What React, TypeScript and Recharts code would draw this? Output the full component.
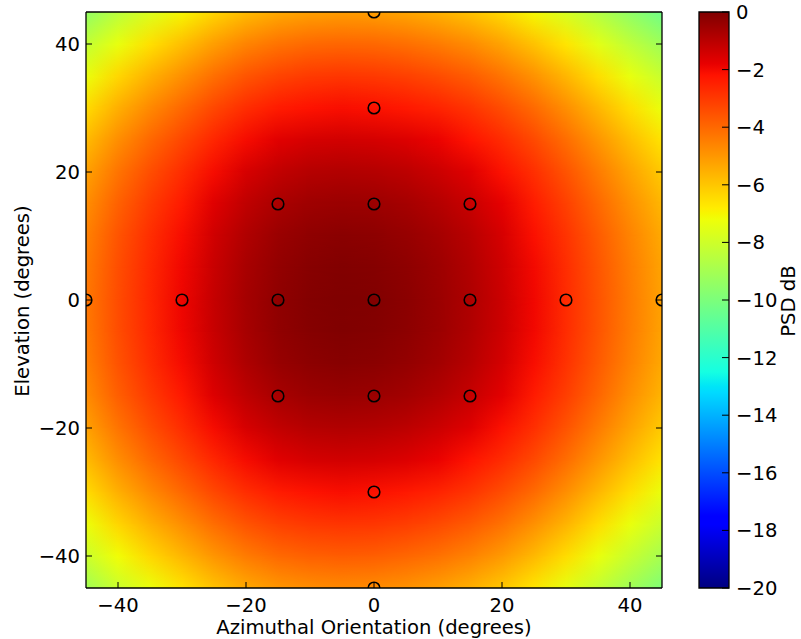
import React from 'react';
import { ScatterChart, Scatter, BarChart, Bar, XAxis, YAxis, ReferenceArea } from 'recharts';

// Grid of beam directions (degrees)
const AZIMUTH_DEG = [-45, -40, -35, -30, -25, -20, -15, -10, -5, 0, 5, 10, 15, 20, 25, 30, 35, 40, 45];
const ELEVATION_DEG = [-45, -40, -35, -30, -25, -20, -15, -10, -5, 0, 5, 10, 15, 20, 25, 30, 35, 40, 45];

// Relative PSD (dB) along each direction, one value per grid angle
const AZIMUTH_PSD_DB = [-4.35, -3.4, -2.6, -1.9, -1.2, -0.65, -0.28, -0.08, 0, -0.05, -0.2, -0.45, -0.8, -1.3, -1.95, -2.7, -3.55, -4.4, -5.2];
const ELEVATION_PSD_DB = [-4.7, -3.75, -2.9, -2.1, -1.4, -0.85, -0.42, -0.15, -0.03, 0, -0.05, -0.18, -0.45, -0.85, -1.4, -2.1, -2.95, -3.95, -5.1];

// Measurement positions
const MEASURED_AZ = [0, 0, -15, 0, 15, -45, -30, -15, 0, 15, 30, 45, -15, 0, 15, 0, 0];
const MEASURED_EL = [45, 30, 15, 15, 15, 0, 0, 0, 0, 0, 0, 0, -15, -15, -15, -30, -45];

const AXIS_TICKS = [-40, -20, 0, 20, 40];
const COLORBAR_TICKS = [0, -2, -4, -6, -8, -10, -12, -14, -16, -18, -20];
const PSD_MIN = -20;
const PSD_MAX = 0;

const FONT = 'DejaVu Sans';
const FONT_SIZE = 19.6;

// matplotlib "jet" colormap segments
const JET_RED: number[][] = [[0, 0], [0.35, 0], [0.66, 1], [0.89, 1], [1, 0.5]];
const JET_GREEN: number[][] = [[0, 0], [0.125, 0], [0.375, 1], [0.64, 1], [0.91, 0], [1, 0]];
const JET_BLUE: number[][] = [[0, 0.5], [0.11, 1], [0.34, 1], [0.65, 0], [1, 0]];
const JET_BREAKS = [0, 0.11, 0.125, 0.34, 0.35, 0.375, 0.64, 0.65, 0.66, 0.89, 0.91, 1];

function channel(seg: number[][], t: number): number {
  for (let i = 1; i < seg.length; i++) {
    if (t <= seg[i][0]) {
      const [t0, v0] = seg[i - 1];
      const [t1, v1] = seg[i];
      return v0 + ((t - t0) / (t1 - t0)) * (v1 - v0);
    }
  }
  return seg[seg.length - 1][1];
}

function jet(t: number): string {
  const c = Math.max(0, Math.min(1, t));
  const r = Math.round(channel(JET_RED, c) * 255);
  const g = Math.round(channel(JET_GREEN, c) * 255);
  const b = Math.round(channel(JET_BLUE, c) * 255);
  return `rgb(${r},${g},${b})`;
}

function psdColor(db: number): string {
  return jet((db - PSD_MIN) / (PSD_MAX - PSD_MIN));
}

const fmt = (v: number) => (v < 0 ? '\u2212' + Math.abs(v) : String(v));

const measured = MEASURED_AZ.map((az, i) => ({ az, el: MEASURED_EL[i] }));
const colorbarData = [{ name: 'PSD', span: [PSD_MIN, PSD_MAX] }];

// one horizontal colour gradient per elevation row
const rowGradients = ELEVATION_DEG.map((el, j) => (
  <linearGradient key={`row${j}`} id={`psdRow${j}`} x1="0" y1="0" x2="1" y2="0">
    {AZIMUTH_DEG.map((az, i) => (
      <stop
        key={i}
        offset={(az - AZIMUTH_DEG[0]) / (AZIMUTH_DEG[AZIMUTH_DEG.length - 1] - AZIMUTH_DEG[0])}
        stopColor={psdColor(AZIMUTH_PSD_DB[i] + ELEVATION_PSD_DB[j])}
      />
    ))}
  </linearGradient>
));

const emptyTick = () => <g />;

const tickStyle = { fill: '#000', fontSize: FONT_SIZE, fontFamily: FONT };

function Ring(props: any) {
  const { cx, cy } = props;
  return <circle cx={cx} cy={cy} r={5.8} fill="none" stroke="#000" strokeWidth={1.6} />;
}

export default function App() {
  const bands = [];
  for (let j = 0; j < ELEVATION_DEG.length - 1; j++) {
    bands.push(
      <ReferenceArea
        key={`b${j}`}
        x1={AZIMUTH_DEG[0]}
        x2={AZIMUTH_DEG[AZIMUTH_DEG.length - 1]}
        y1={ELEVATION_DEG[j]}
        y2={ELEVATION_DEG[j + 1]}
        ifOverflow="visible"
        shape={(p: any) => (
          <rect x={p.x} y={p.y} width={p.width} height={p.height} fill={`url(#psdRow${j})`} shapeRendering="crispEdges" />
        )}
      />,
      <ReferenceArea
        key={`t${j}`}
        x1={AZIMUTH_DEG[0]}
        x2={AZIMUTH_DEG[AZIMUTH_DEG.length - 1]}
        y1={ELEVATION_DEG[j]}
        y2={ELEVATION_DEG[j + 1]}
        ifOverflow="visible"
        shape={(p: any) => (
          <rect
            x={p.x}
            y={p.y}
            width={p.width}
            height={p.height}
            fill={`url(#psdRow${j + 1})`}
            mask="url(#bandFade)"
            shapeRendering="crispEdges"
          />
        )}
      />
    );
  }

  return (
    <div style={{ position: 'absolute', left: 0, top: 0, width: 801, height: 639, background: '#fff' }}>
      <ScatterChart
        width={801}
        height={639}
        margin={{ top: 11, right: 138, bottom: 1, left: 26 }}
        style={{ fontFamily: FONT }}
      >
        <defs>
          {rowGradients}
          <linearGradient id="bandRamp" x1="0" y1="0" x2="0" y2="1">
            <stop offset="0" stopColor="#fff" stopOpacity={1} />
            <stop offset="1" stopColor="#fff" stopOpacity={0} />
          </linearGradient>
          <mask id="bandFade" maskUnits="objectBoundingBox" maskContentUnits="objectBoundingBox" x="0" y="0" width="1" height="1">
            <rect x="0" y="0" width="1" height="1" fill="url(#bandRamp)" />
          </mask>
        </defs>
        <XAxis
          xAxisId="top"
          orientation="top"
          type="number"
          domain={[-45, 45]}
          ticks={AXIS_TICKS}
          height={1}
          tickSize={-6}
          tick={emptyTick}
          axisLine={{ stroke: '#000', strokeWidth: 1.3 }}
          tickLine={{ stroke: '#000', strokeWidth: 1 }}
          allowDataOverflow
        />
        <XAxis
          type="number"
          dataKey="az"
          domain={[-45, 45]}
          ticks={AXIS_TICKS}
          height={50}
          tickSize={-6}
          tickMargin={16}
          tickFormatter={fmt}
          tick={tickStyle}
          axisLine={{ stroke: '#000', strokeWidth: 1.3 }}
          tickLine={{ stroke: '#000', strokeWidth: 1 }}
          allowDataOverflow
          label={{
            content: (p: any) => (
              <text
                x={p.viewBox.x + p.viewBox.width / 2}
                y={p.viewBox.y + 45.5}
                textAnchor="middle"
                fontFamily={FONT}
                fontSize={FONT_SIZE}
                fill="#000"
              >
                Azimuthal Orientation (degrees)
              </text>
            ),
          }}
        />
        <YAxis
          type="number"
          dataKey="el"
          domain={[-45, 45]}
          ticks={AXIS_TICKS}
          width={60}
          tickSize={-6}
          tickMargin={12}
          tickFormatter={fmt}
          tick={tickStyle}
          axisLine={{ stroke: '#000', strokeWidth: 1.3 }}
          tickLine={{ stroke: '#000', strokeWidth: 1 }}
          allowDataOverflow
          label={{
            content: (p: any) => {
              const x = p.viewBox.x + 2.5;
              const y = p.viewBox.y + p.viewBox.height / 2 + 1;
              return (
                <text
                  x={x}
                  y={y}
                  transform={`rotate(-90, ${x}, ${y})`}
                  textAnchor="middle"
                  fontFamily={FONT}
                  fontSize={FONT_SIZE}
                  fill="#000"
                >
                  Elevation (degrees)
                </text>
              );
            },
          }}
        />
        <YAxis
          yAxisId="right"
          orientation="right"
          type="number"
          domain={[-45, 45]}
          ticks={AXIS_TICKS}
          width={1}
          tickSize={-6}
          tick={emptyTick}
          axisLine={{ stroke: '#000', strokeWidth: 1.3 }}
          tickLine={{ stroke: '#000', strokeWidth: 1 }}
          allowDataOverflow
        />
        {bands}
        <Scatter data={measured} shape={<Ring />} isAnimationActive={false} />
      </ScatterChart>

      <div style={{ position: 'absolute', left: 0, top: 0 }}>
        <BarChart
          width={801}
          height={639}
          data={colorbarData}
          margin={{ top: 12, right: 2, bottom: 51, left: 699 }}
          barCategoryGap={0}
          barGap={0}
          style={{ fontFamily: FONT }}
        >
          <defs>
            <linearGradient id="jetBar" x1="0" y1="1" x2="0" y2="0">
              {JET_BREAKS.map((t, i) => (
                <stop key={i} offset={t} stopColor={jet(t)} />
              ))}
            </linearGradient>
          </defs>
          <XAxis dataKey="name" type="category" hide />
          <YAxis
            orientation="right"
            type="number"
            domain={[PSD_MIN, PSD_MAX]}
            ticks={COLORBAR_TICKS}
            width={70}
            tickSize={-7}
            tickMargin={14}
            tickFormatter={fmt}
            tick={tickStyle}
            axisLine={false}
            tickLine={{ stroke: '#000', strokeWidth: 1 }}
            label={{
              content: (p: any) => {
                const x = p.viewBox.x + 66;
                const y = p.viewBox.y + p.viewBox.height / 2 + 1;
                return (
                  <text
                    x={x}
                    y={y}
                    transform={`rotate(-90, ${x}, ${y})`}
                    textAnchor="middle"
                    fontFamily={FONT}
                    fontSize={FONT_SIZE}
                    fill="#000"
                  >
                    PSD dB
                  </text>
                );
              },
            }}
          />
          <Bar dataKey="span" fill="url(#jetBar)" stroke="#000" strokeWidth={1.3} isAnimationActive={false} />
        </BarChart>
      </div>
    </div>
  );
}
